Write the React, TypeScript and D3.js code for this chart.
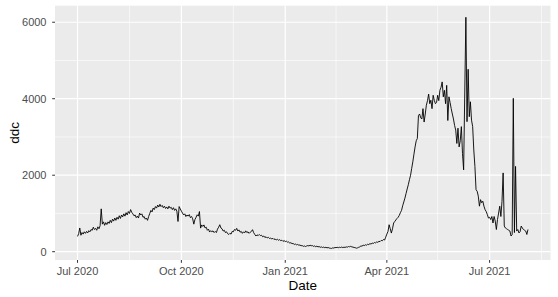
import React from "react";
import * as d3 from "d3";

const START_DATE = "2020-07-01";

// daily values (ddc), one row per week starting 2020-07-01
const ddcValues: number[] = [
  400, 470, 620, 430, 500, 460, 520,
  480, 530, 490, 550, 520, 580, 560,
  640, 580, 610, 560, 650, 600, 680,
  1120, 720, 780, 690, 760, 710, 780,
  740, 820, 760, 850, 800, 880, 820,
  900, 850, 940, 870, 960, 910, 990,
  930, 1020, 960, 1050, 1000, 1100, 1030,
  990, 940, 960, 890, 930, 880, 1010,
  960, 990, 900, 920, 850, 880, 820,
  920, 1000, 1080, 1040, 1140, 1100, 1180,
  1140, 1220, 1170, 1240, 1180, 1210, 1150,
  1190, 1130, 1170, 1120, 1190, 1140, 1160,
  1100, 1150, 1080, 1120, 1060, 790, 1180,
  1120, 1060, 1010, 960, 990, 920, 960,
  930, 970, 890, 920, 860, 720, 840,
  900, 965, 930, 1050, 617, 700, 660,
  700, 620, 640, 560, 590, 514, 550,
  520, 545, 500, 530, 500, 590, 640,
  705, 620, 600, 540, 560, 500, 520,
  470, 450, 480, 460, 531, 520, 580,
  560, 610, 540, 570, 510, 530, 480,
  520, 490, 545, 500, 520, 480, 510,
  530, 575, 500, 450, 410, 440, 420,
  450, 420, 430, 390, 410, 370, 390,
  360, 375, 345, 360, 330, 350, 320,
  335, 305, 325, 300, 315, 290, 300,
  270, 290, 265, 275, 250, 255, 226,
  235, 210, 215, 190, 200, 180, 190,
  170, 175, 155, 160, 140, 150, 135,
  150, 160, 150, 170, 155, 160, 140,
  150, 130, 145, 125, 135, 115, 125,
  110, 120, 105, 115, 100, 110, 95,
  90, 85, 100, 95, 110, 105, 115,
  105, 115, 110, 120, 108, 118, 112,
  125, 118, 135, 128, 140, 125, 120,
  110, 105, 92, 100, 115, 125, 150,
  145, 170, 160, 180, 170, 195, 185,
  210, 200, 225, 215, 240, 230, 255,
  245, 270, 265, 295, 285, 320, 305,
  380, 460, 530, 705, 600, 487, 600,
  750, 790, 830, 870, 900, 950, 1020,
  1080, 1200, 1300, 1400, 1520, 1640, 1750,
  1880, 2000, 2180, 2350, 2550, 2740, 2900,
  2960, 3560, 3600, 3500, 3470, 3740, 3390,
  3600, 3830, 3950, 4120, 3870, 3960, 3740,
  4090, 3960, 3870, 3900, 4090, 3950, 4220,
  4300, 4440, 4050, 4220, 3870, 4350, 3430,
  4050, 3900, 3740, 3600, 3470, 3300, 3180,
  2830, 3230, 2740, 2900, 3270, 2570, 2140,
  4150, 6130, 3400, 4770, 3530, 3920, 3440,
  3270, 2660, 2230, 1620, 1580, 1450, 1190,
  1360, 1280, 1320, 1190, 1100, 1050, 970,
  880, 900, 840, 920, 750, 920, 800,
  580, 840, 1010, 1190, 920, 1320, 2060,
  670, 620, 600, 580, 560, 540, 410,
  450, 4010, 500, 2230, 540, 580, 490,
  520, 670, 620, 580, 560, 540, 450,
  580,
];

const yTicks: number[] = [0, 2000, 4000, 6000];
const yMinorTicks: number[] = [1000, 3000, 5000];
const xTickDates: string[] = ["2020-07-01", "2020-10-01", "2021-01-01", "2021-04-01", "2021-07-01"];
const xTickLabels: string[] = ["Jul 2020", "Oct 2020", "Jan 2021", "Apr 2021", "Jul 2021"];
const xMinorDates: string[] = ["2020-08-16", "2020-11-16", "2021-02-15", "2021-05-16", "2021-08-16"];

const W = 558;
const H = 297;
const PL = 55;
const PR = 550.5;
const PT = 5.7;
const PB = 260;
const FONT = "'Liberation Sans', Arial, Helvetica, sans-serif";

export default function App() {
  const parse = d3.utcParse("%Y-%m-%d");
  const start = parse(START_DATE) as Date;
  const data = ddcValues.map((v, i) => ({ date: d3.utcDay.offset(start, i), v }));

  const [x0, x1] = d3.extent(data, (d) => d.date) as [Date, Date];
  const xr = +x1 - +x0;
  const x = d3
    .scaleUtc()
    .domain([new Date(+x0 - 0.05 * xr), new Date(+x1 + 0.05 * xr)])
    .range([PL, PR]);

  const [y0, y1] = d3.extent(data, (d) => d.v) as [number, number];
  const yr = y1 - y0;
  const y = d3
    .scaleLinear()
    .domain([y0 - 0.05 * yr, y1 + 0.05 * yr])
    .range([PB, PT]);

  const line = d3
    .line<{ date: Date; v: number }>()
    .x((d) => x(d.date))
    .y((d) => y(d.v));

  const xTicks = xTickDates.map((s) => parse(s) as Date);
  const xMinor = xMinorDates.map((s) => parse(s) as Date).filter((d) => x(d) < PR);

  return (
    <svg
      width={W}
      height={H}
      style={{ position: "absolute", left: 0, top: 0, background: "#fff" }}
      fontFamily={FONT}
    >
      <rect x={PL} y={PT} width={PR - PL} height={PB - PT} fill="#EBEBEB" />
      {yMinorTicks.map((t) => (
        <line key={"ym" + t} x1={PL} x2={PR} y1={y(t)} y2={y(t)} stroke="#fff" strokeWidth={0.6} />
      ))}
      {xMinor.map((d, i) => (
        <line key={"xm" + i} x1={x(d)} x2={x(d)} y1={PT} y2={PB} stroke="#fff" strokeWidth={0.6} />
      ))}
      {yTicks.map((t) => (
        <line key={"yM" + t} x1={PL} x2={PR} y1={y(t)} y2={y(t)} stroke="#fff" strokeWidth={1.2} />
      ))}
      {xTicks.map((d, i) => (
        <line key={"xM" + i} x1={x(d)} x2={x(d)} y1={PT} y2={PB} stroke="#fff" strokeWidth={1.2} />
      ))}
      <path d={line(data) || ""} fill="none" stroke="#000" strokeWidth={0.9} strokeLinejoin="round" />
      {yTicks.map((t) => (
        <g key={"yt" + t}>
          <line x1={PL - 2.8} x2={PL} y1={y(t)} y2={y(t)} stroke="#333" strokeWidth={1} />
          <text x={PL - 8.5} y={y(t)} dy="0.35em" textAnchor="end" fontSize={11} fill="#4D4D4D">
            {t}
          </text>
        </g>
      ))}
      {xTicks.map((d, i) => (
        <g key={"xt" + i}>
          <line x1={x(d)} x2={x(d)} y1={PB} y2={PB + 2.8} stroke="#333" strokeWidth={1} />
          <text x={x(d)} y={274.5} textAnchor="middle" fontSize={11} fill="#4D4D4D">
            {xTickLabels[i]}
          </text>
        </g>
      ))}
      <text x={(PL + PR) / 2} y={289.5} textAnchor="middle" fontSize={13.5} fill="#000">
        Date
      </text>
      <text
        transform={`translate(18.5, ${(PT + PB) / 2}) rotate(-90)`}
        textAnchor="middle"
        fontSize={13.5}
        fill="#000"
      >
        ddc
      </text>
    </svg>
  );
}
